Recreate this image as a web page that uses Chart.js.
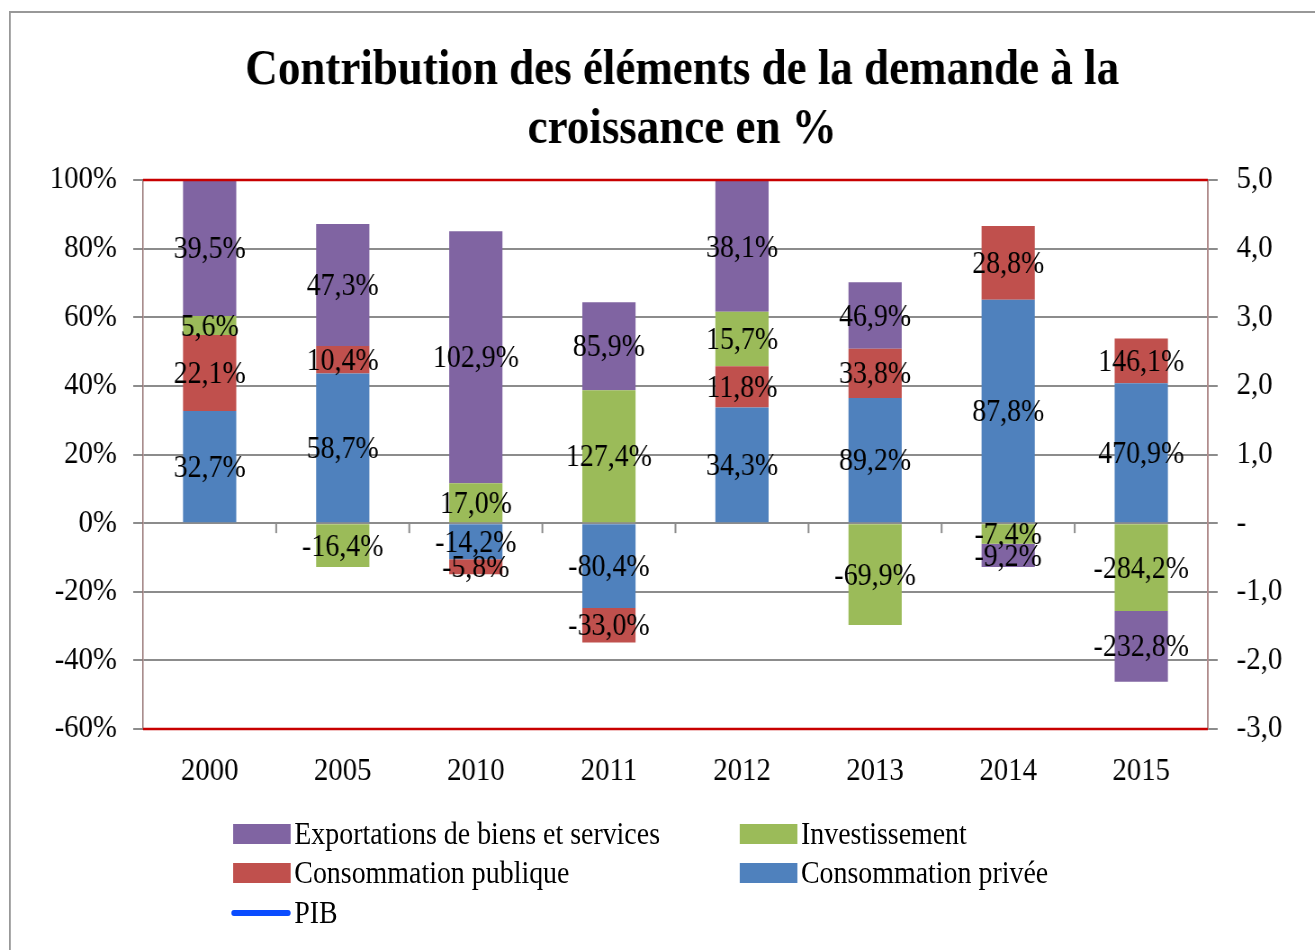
<!DOCTYPE html>
<html lang="fr">
<head>
<meta charset="utf-8">
<title>Contribution des éléments de la demande à la croissance</title>
<script src="https://cdn.jsdelivr.net/npm/chart.js@4.4.1/dist/chart.umd.min.js"></script>
<style>
  html, body { margin: 0; padding: 0; background: #fff; overflow: hidden; width: 1315px; height: 950px; }
  /* the original picture is slightly condensed horizontally */
  #wrap { position: relative; width: 1507px; height: 950px; transform: scaleX(0.9); transform-origin: 0 0; }
  #frame { position: absolute; left: 10px; top: 11px; width: 1600px; height: 1000px; border: 2px solid #989898; pointer-events: none; }
  #chart { position: absolute; left: 0; top: 0; }
  .leg { position: absolute; display: flex; align-items: center; height: 30px;
         font-family: 'Liberation Serif', 'Times New Roman', serif; font-size: 31px; line-height: 30px; color: #000; white-space: nowrap; }
  .leg .sw { width: 64px; height: 20px; margin-right: 4px; }
  .leg .ln { width: 66px; height: 6px; border-radius: 3px; margin-left: -2px; margin-right: 4px; }
</style>
</head>
<body>
<div id="wrap">
  <canvas id="chart" width="1507" height="950" role="img" aria-label="Contribution des éléments de la demande à la croissance en %"></canvas>
  <div id="frame"></div>
  <div id="legend"></div>
</div>
<script>
// categories
const years = ['2000', '2005', '2010', '2011', '2012', '2013', '2014', '2015'];

// bar heights as read on the left axis (%)
const consoPrivee    = [32.7, 43.6, -10.5, -24.7, 33.7, 36.5, 65.1, 40.8];
const consoPublique  = [22.1,  8.0,  -4.4, -10.1, 12.0, 14.3, 21.5, 13.0];
const investissement = [ 5.6, -12.8, 11.6, 38.7, 15.9, -29.7, -6.0, -25.6];
const exportations   = [39.5, 35.6,  73.5, 25.7, 38.1, 19.4, -6.8, -20.6];

// values printed on the bars (contribution in %)
const lblPrivee   = [32.7, 58.7, -14.2, -80.4, 34.3, 89.2, 87.8, 470.9];
const lblPublique = [22.1, 10.4,  -5.8, -33.0, 11.8, 33.8, 28.8, 146.1];
const lblInvest   = [ 5.6, -16.4, 17.0, 127.4, 15.7, -69.9, -7.4, -284.2];
const lblExport   = [39.5, 47.3, 102.9, 85.9, 38.1, 46.9, -9.2, -232.8];

// PIB line: listed in the legend, no point visible in the plot
const pib = [];

// axis ticks
const leftMin = -60, leftMax = 100, leftStep = 20;
const rightMin = -3, rightMax = 5, rightStep = 1;

const serif = "'Liberation Serif', 'Times New Roman', serif";
const fmt = v => v.toFixed(1).replace('.', ',');

const barLabels = [lblPrivee, lblPublique, lblInvest, lblExport];

const plotDecor = {
  id: 'plotDecor',
  afterDatasetsDraw(chart) {
    const { ctx, chartArea, scales } = chart;
    const y0 = scales.y.getPixelForValue(0);
    ctx.save();

    // small tick marks on the zero line, between categories
    ctx.strokeStyle = '#8c8c8c';
    ctx.lineWidth = 2;
    for (let i = 1; i < years.length; i++) {
      const x = (scales.x.getPixelForValue(i - 1) + scales.x.getPixelForValue(i)) / 2;
      ctx.beginPath();
      ctx.moveTo(x, y0);
      ctx.lineTo(x, y0 + 10);
      ctx.stroke();
    }

    // red top and bottom borders of the plot area
    ctx.strokeStyle = '#c80000';
    ctx.lineWidth = 2.5;
    ctx.beginPath();
    ctx.moveTo(chartArea.left, chartArea.top);
    ctx.lineTo(chartArea.right, chartArea.top);
    ctx.moveTo(chartArea.left, chartArea.bottom);
    ctx.lineTo(chartArea.right, chartArea.bottom);
    ctx.stroke();

    // value labels in the middle of each segment
    ctx.fillStyle = '#000';
    ctx.font = '31px ' + serif;
    ctx.textAlign = 'center';
    ctx.textBaseline = 'middle';
    barLabels.forEach((labels, di) => {
      const meta = chart.getDatasetMeta(di);
      meta.data.forEach((bar, i) => {
        const p = bar.getProps(['x', 'y', 'base'], true);
        ctx.fillText(fmt(labels[i]) + '%', p.x, (p.y + p.base) / 2 + 2);
      });
    });
    ctx.restore();
  }
};

const chartConfig = {
  type: 'bar',
  data: {
    labels: years,
    datasets: [
      { label: 'Consommation privée', data: consoPrivee, backgroundColor: '#4f81bd' },
      { label: 'Consommation publique', data: consoPublique, backgroundColor: '#c0504d' },
      { label: 'Investissement', data: investissement, backgroundColor: '#9bbb59' },
      { label: 'Exportations de biens et services', data: exportations, backgroundColor: '#8064a2' },
      { label: 'PIB', type: 'line', data: pib, yAxisID: 'y1', borderColor: '#0a4cff', borderWidth: 4, pointRadius: 0 }
    ]
  },
  options: {
    responsive: false,
    animation: false,
    layout: { padding: { left: 9, right: 0, top: 8, bottom: 161 } },
    datasets: { bar: { barPercentage: 0.4, categoryPercentage: 1 } },
    scales: {
      x: {
        stacked: true,
        grid: { display: false, drawTicks: false },
        border: { display: false },
        ticks: { color: '#000', font: { family: serif, size: 32 }, padding: 23 },
        afterFit: s => { s.height = 60; }
      },
      y: {
        stacked: true,
        min: leftMin, max: leftMax,
        grid: { color: '#8c8c8c', lineWidth: 2, tickLength: 11 },
        border: { color: '#957474', width: 1.5 },
        ticks: { stepSize: leftStep, color: '#000', font: { family: serif, size: 32 }, padding: 18, callback: v => v + '%' },
        afterFit: s => { s.width = 150; }
      },
      y1: {
        position: 'right',
        min: rightMin, max: rightMax,
        grid: { drawOnChartArea: false, color: '#8c8c8c', lineWidth: 2, tickLength: 11 },
        border: { color: '#b08c8c', width: 2 },
        ticks: { stepSize: rightStep, color: '#000', font: { family: serif, size: 32 }, padding: 21,
                 callback: v => (v === 0 ? '-' : fmt(v)) },
        afterFit: s => { s.width = 165; }
      }
    },
    plugins: {
      legend: { display: false },
      tooltip: { enabled: false },
      title: {
        display: true,
        text: ['Contribution des éléments de la demande à la', 'croissance en %'],
        color: '#000',
        font: { family: serif, size: 50, weight: 'bold', lineHeight: 1.17 },
        padding: { top: 34, bottom: 21 }
      }
    }
  },
  plugins: [plotDecor]
};

const chart = new Chart(document.getElementById('chart').getContext('2d'), chartConfig);

// legend in two columns, built from the chart's datasets
const legendOrder = [3, 2, 1, 0, 4];
const legendCols = [259, 822];
const legendRows = [819, 858, 898];
const legendEl = document.getElementById('legend');
legendOrder.forEach((di, k) => {
  const ds = chart.data.datasets[di];
  const item = document.createElement('div');
  item.className = 'leg';
  item.style.left = legendCols[k % 2] + 'px';
  item.style.top = legendRows[Math.floor(k / 2)] + 'px';
  const mark = document.createElement('span');
  if (ds.type === 'line') {
    mark.className = 'ln';
    mark.style.background = ds.borderColor;
  } else {
    mark.className = 'sw';
    mark.style.background = ds.backgroundColor;
  }
  const txt = document.createElement('span');
  txt.textContent = ds.label;
  item.appendChild(mark);
  item.appendChild(txt);
  legendEl.appendChild(item);
});
</script>
</body>
</html>
